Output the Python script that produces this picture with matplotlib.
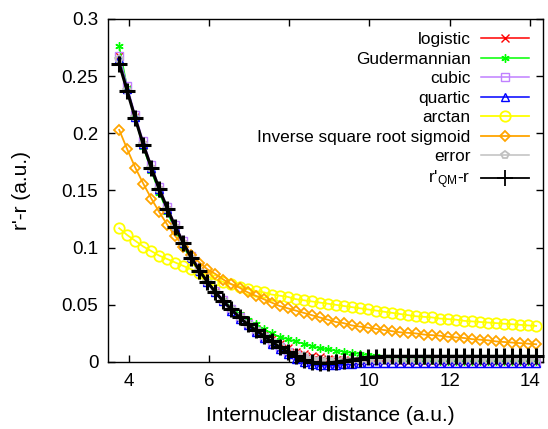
import numpy as np
import matplotlib
matplotlib.use("Agg")
import matplotlib.pyplot as plt
from matplotlib.ticker import FuncFormatter

plt.rcParams['font.family'] = ['Liberation Sans', 'DejaVu Sans']
plt.rcParams['mathtext.default'] = 'regular'

# Internuclear distance grid (a.u.)
x = np.round(3.76 + 0.2 * np.arange(53), 2)

r_qm = [0.261, 0.237, 0.213, 0.190, 0.170, 0.151, 0.134, 0.118, 0.104, 0.091,
        0.080, 0.070, 0.061, 0.053, 0.046, 0.039, 0.033, 0.028, 0.023, 0.018,
        0.013, 0.009, 0.005, 0.002, 0.000, -0.001, -0.001, 0.000, 0.001, 0.002,
        0.003, 0.004, 0.0045, 0.005, 0.005, 0.005, 0.005, 0.005, 0.005, 0.005,
        0.005, 0.005, 0.005, 0.005, 0.005, 0.005, 0.005, 0.005, 0.005, 0.005,
        0.005, 0.005, 0.005]

logistic = [0.268, 0.239, 0.214, 0.190, 0.169, 0.150, 0.133, 0.117, 0.103, 0.091,
            0.080, 0.070, 0.061, 0.053, 0.046, 0.040, 0.034, 0.029, 0.024, 0.020,
            0.016, 0.012, 0.009, 0.007, 0.005, 0.004, 0.003, 0.002, 0.002, 0.001,
            0.001, 0.001, 0.001, 0.001, 0.001, 0.000, 0.000, 0.000, 0.000, 0.000,
            0.000, 0.000, 0.000, 0.000, 0.000, 0.000, 0.000, 0.000, 0.000, 0.000,
            0.000, 0.000, 0.000]

gudermannian = [0.276, 0.240, 0.213, 0.188, 0.167, 0.148, 0.131, 0.115, 0.101, 0.089,
                0.078, 0.069, 0.061, 0.054, 0.048, 0.042, 0.037, 0.033, 0.029, 0.025,
                0.022, 0.020, 0.018, 0.016, 0.014, 0.012, 0.011, 0.010, 0.009, 0.008,
                0.007, 0.006, 0.005, 0.004, 0.004, 0.003, 0.003, 0.002, 0.002, 0.002,
                0.001, 0.001, 0.001, 0.001, 0.001, 0.001, 0.001, 0.001, 0.001, 0.001,
                0.001, 0.001, 0.001]

cubic = [0.268, 0.241, 0.216, 0.193, 0.172, 0.153, 0.136, 0.120, 0.106, 0.093,
         0.082, 0.071, 0.062, 0.054, 0.046, 0.039, 0.033, 0.027, 0.022, 0.017,
         0.013, 0.009, 0.006, 0.003, 0.001, 0.000, -0.001, -0.001, -0.001, -0.001,
         -0.001, -0.001, -0.001, -0.001, -0.001, -0.001, -0.001, -0.001, -0.001, -0.001,
         -0.001, -0.001, -0.001, -0.001, -0.001, -0.001, -0.001, -0.001, -0.001, -0.001,
         -0.001, -0.001, -0.001]

quartic = [0.265, 0.239, 0.214, 0.191, 0.170, 0.151, 0.134, 0.118, 0.104, 0.091,
           0.080, 0.070, 0.061, 0.053, 0.045, 0.038, 0.032, 0.026, 0.021, 0.016,
           0.011, 0.007, 0.003, 0.000, -0.002, -0.003, -0.003, -0.003, -0.002, -0.002,
           -0.001, -0.001, -0.001, -0.001, -0.001, -0.001, -0.001, -0.001, -0.001, -0.001,
           -0.001, -0.001, -0.001, -0.001, -0.001, -0.001, -0.001, -0.001, -0.001, -0.001,
           -0.001, -0.001, -0.001]

arctan = [0.117, 0.111, 0.106, 0.101, 0.097, 0.093, 0.090, 0.087, 0.084, 0.081,
          0.078, 0.075, 0.072, 0.070, 0.068, 0.066, 0.064, 0.062, 0.061, 0.059,
          0.058, 0.057, 0.055, 0.054, 0.053, 0.052, 0.051, 0.050, 0.049, 0.048,
          0.047, 0.046, 0.045, 0.044, 0.043, 0.042, 0.041, 0.040, 0.0395, 0.039,
          0.038, 0.0375, 0.037, 0.036, 0.0355, 0.035, 0.0345, 0.034, 0.0335, 0.033,
          0.0325, 0.032, 0.0315]

isrs = [0.203, 0.186, 0.170, 0.156, 0.143, 0.131, 0.120, 0.110, 0.101, 0.094,
        0.087, 0.081, 0.077, 0.072, 0.068, 0.065, 0.061, 0.058, 0.055, 0.052,
        0.049, 0.047, 0.045, 0.043, 0.041, 0.039, 0.037, 0.035, 0.034, 0.032,
        0.031, 0.030, 0.029, 0.028, 0.027, 0.026, 0.0255, 0.025, 0.024, 0.0235,
        0.023, 0.022, 0.0215, 0.021, 0.020, 0.0195, 0.019, 0.018, 0.0175, 0.017,
        0.0165, 0.016, 0.0155]

error = [0.265, 0.238, 0.214, 0.191, 0.170, 0.151, 0.134, 0.118, 0.104, 0.091,
         0.080, 0.070, 0.061, 0.053, 0.046, 0.039, 0.033, 0.028, 0.023, 0.018,
         0.014, 0.010, 0.007, 0.005, 0.003, 0.002, 0.002, 0.002, 0.002, 0.002,
         0.002, 0.002, 0.002, 0.002, 0.002, 0.002, 0.002, 0.002, 0.002, 0.002,
         0.002, 0.002, 0.002, 0.002, 0.002, 0.002, 0.002, 0.002, 0.002, 0.002,
         0.002, 0.002, 0.002]

labels = ["logistic", "Gudermannian", "cubic", "quartic", "arctan",
          "Inverse square root sigmoid", "error", "r'$_{QM}$-r"]

fig = plt.figure(figsize=(5.48, 4.29), dpi=100)
ax = fig.add_axes([108/548, 1-362/429, (543-108)/548, (362-19)/429])

common = dict(lw=1.1, ms=6, mew=1.0, fillstyle='none', clip_on=False)
ax.plot(x, logistic, color='#ff0000', marker='x', label=labels[0], **common)
ax.plot(x, gudermannian, color='#00ff00', marker=(6, 2, 0), label=labels[1], **common)
ax.plot(x, cubic, color='#c080ff', marker='s', label=labels[2], **common)
ax.plot(x, quartic, color='#0000ff', marker='^', label=labels[3], **common)
ax.plot(x, arctan, color='#ffff00', marker='o', lw=1.3, ms=7.5, mew=1.3,
        fillstyle='none', clip_on=False, label=labels[4])
ax.plot(x, isrs, color='#ffa500', marker='D', lw=1.3, ms=5.5, mew=1.3,
        fillstyle='none', clip_on=False, label=labels[5])
ax.plot(x, error, color='#c0c0c0', marker='p', lw=1.1, ms=6, mew=1.3,
        fillstyle='none', clip_on=False, label=labels[6])
ax.plot(x, r_qm, color='black', marker='+', lw=2.2, ms=12, mew=2.2,
        clip_on=False, label=labels[7])

ax.set_xlim(3.48, 14.33)
ax.set_ylim(0, 0.3)
ax.set_xticks([4, 6, 8, 10, 12, 14])
ax.set_yticks([0, 0.05, 0.1, 0.15, 0.2, 0.25, 0.3])
ax.yaxis.set_major_formatter(FuncFormatter(lambda v, p: f"{v:g}"))
ax.tick_params(direction='in', length=5, width=1, top=True, right=True,
               labelsize=13.5, colors='black')
ax.tick_params(axis='x', pad=8)
ax.tick_params(axis='y', pad=7)
for s in ax.spines.values():
    s.set_linewidth(1.0)
    s.set_zorder(1)

ax.set_xlabel("Internuclear distance (a.u.)", fontsize=15, va='center')
ax.xaxis.set_label_coords(0.51, -0.155)
ax.set_ylabel("r'-r (a.u.)", fontsize=15, va='center')
ax.yaxis.set_label_coords(-0.198, 0.5)

leg = ax.legend(loc='upper right', bbox_to_anchor=(0.968, 0.962), frameon=False,
                markerfirst=False, fontsize=12.4, handlelength=2.8,
                labelspacing=0.26, borderpad=0, borderaxespad=0, handletextpad=0.6)
for col in leg._legend_handle_box.get_children():
    col.align = "right"
h = leg.legend_handles[7]
h.set_linewidth(1.3)
h.set_markeredgewidth(1.3)

fig.savefig("out.png", dpi=100)
